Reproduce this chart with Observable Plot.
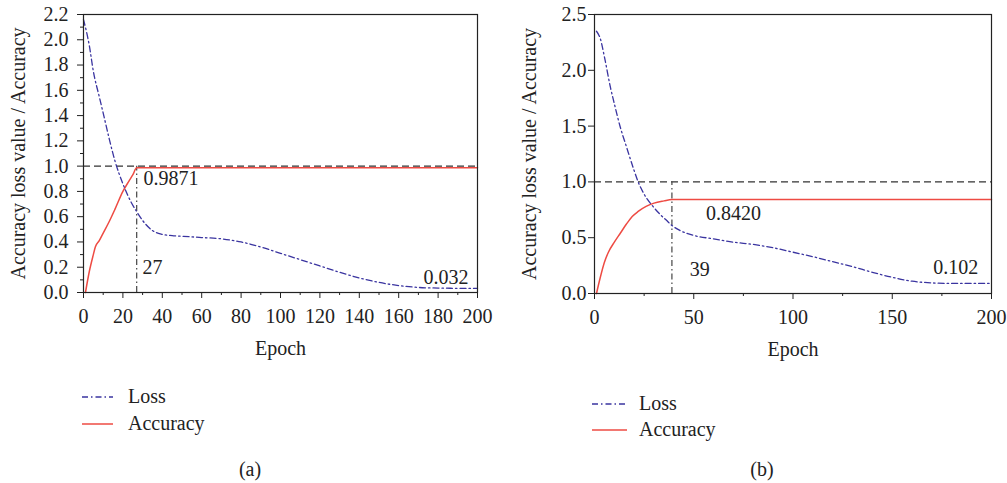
<!DOCTYPE html>
<html><head><meta charset="utf-8">
<script src="https://cdn.jsdelivr.net/npm/d3@7"></script>
<script src="https://cdn.jsdelivr.net/npm/@observablehq/plot@0.6"></script>
<style>
body{margin:0;background:#fff;font-family:"Liberation Serif",serif;color:#222}
#root{position:relative;width:1007px;height:483px;overflow:hidden;background:#fff}
.panel{position:absolute;top:0}
.txt{position:absolute;font-size:20px;line-height:20px;white-space:nowrap;color:#222}
.sw{position:absolute}
</style>
</head><body><div id="root"></div>
<script>
// ---- Data ----
const seriesNames = ["Loss", "Accuracy"];
const xLabel = "Epoch";
const yLabel = "Accuracy loss value / Accuracy";
const captions = ["(a)", "(b)"];
const refLine = [1];

// Panel (a)
const lossEpochsA = [0,3,5,8,10,13,16,20,24,27,30,35,40,45,50,60,70,80,90,100,110,120,130,140,150,160,170,180,190,200];
const lossValuesA = [2.16,1.95,1.75,1.55,1.42,1.22,1.04,0.86,0.72,0.64,0.57,0.49,0.46,0.45,0.445,0.435,0.425,0.40,0.36,0.31,0.26,0.21,0.16,0.115,0.08,0.055,0.04,0.035,0.033,0.032];
const accEpochsA = [1,3,5,6,8,10,13,16,20,23,25,27,200];
const accValuesA = [0,0.17,0.30,0.36,0.41,0.47,0.56,0.66,0.80,0.88,0.93,0.9871,0.9871];
const peakEpochA = 27;
const annTextA = ["0.9871", "27", "0.032"];
const annXA = [30.5, 30, 184];
const annYA = [0.905, 0.2, 0.12];
const annAnchorA = ["start", "start", "middle"];
const xMajorA = [0,20,40,60,80,100,120,140,160,180,200];
const xMinorA = [10,30,50,70,90,110,130,150,170,190];
const yMajorA = [0,0.2,0.4,0.6,0.8,1.0,1.2,1.4,1.6,1.8,2.0,2.2];
const yMinorA = [0.1,0.3,0.5,0.7,0.9,1.1,1.3,1.5,1.7,1.9,2.1];

// Panel (b)
const lossEpochsB = [1,3,5,8,10,13,16,20,22,25,29,33,36,39,43,50,60,70,80,90,100,110,120,130,140,150,160,170,180,190,200];
const lossValuesB = [2.35,2.28,2.12,1.85,1.70,1.49,1.32,1.10,1.0,0.89,0.79,0.71,0.66,0.61,0.565,0.52,0.49,0.46,0.44,0.41,0.37,0.33,0.285,0.24,0.19,0.145,0.11,0.095,0.09,0.09,0.09];
const accEpochsB = [1,3,5,7,10,13,16,19,22,26,30,35,39,200];
const accValuesB = [0,0.15,0.28,0.37,0.46,0.54,0.62,0.69,0.735,0.78,0.81,0.83,0.842,0.842];
const peakEpochB = 39;
const annTextB = ["0.8420", "39", "0.102"];
const annXB = [70, 53, 182];
const annYB = [0.72, 0.215, 0.235];
const annAnchorB = ["middle", "middle", "middle"];
const xMajorB = [0,50,100,150,200];
const xMinorB = [25,75,125,175];
const yMajorB = [0,0.5,1.0,1.5,2.0,2.5];
const yMinorB = [];

// ---- Styles ----
const LOSS_COLOR = "#3a34a0";
const ACC_COLOR = "#ee4b43";
const DASHDOT = "6,3,1.5,3";
const FONT = '"Liberation Serif", serif';

function makePanel(c) {
  const loss = c.lossEpochs.map((e, i) => ({epoch: e, value: c.lossValues[i]}));
  const acc = c.accEpochs.map((e, i) => ({epoch: e, value: c.accValues[i]}));
  const ann = c.annText.map((t, i) => ({text: t, x: c.annX[i], y: c.annY[i], anchor: c.annAnchor[i]}));
  const marks = [
    Plot.ruleY(refLine, {stroke: "#333", strokeWidth: 1.2, strokeDasharray: "7,4"}),
    Plot.ruleX([c.peak], {y1: 0, y2: 1, stroke: "#444", strokeWidth: 1.2, strokeDasharray: DASHDOT}),
    Plot.line(acc, {x: "epoch", y: "value", stroke: ACC_COLOR, strokeWidth: 1.5, curve: "monotone-x"}),
    Plot.line(loss, {x: "epoch", y: "value", stroke: LOSS_COLOR, strokeWidth: 1.3, strokeDasharray: DASHDOT, curve: "monotone-x"}),
    Plot.axisX({ticks: c.xMajor, tickSize: 6, tickPadding: 10, tickFormat: d => String(d), label: null, fontSize: 20, fontFamily: FONT, stroke: "#222"}),
    Plot.axisX({ticks: c.xMinor, tickSize: 3, tickFormat: () => "", label: null, stroke: "#222"}),
    Plot.axisY({ticks: c.yMajor, tickSize: 6, tickPadding: c.yPad, tickFormat: d3.format(".1f"), label: null, fontSize: 20, fontFamily: FONT, stroke: "#222"}),
    Plot.frame({stroke: "#222", strokeWidth: 1.2}),
    ...ann.map(a => Plot.text([a], {x: "x", y: "y", text: "text", textAnchor: a.anchor, fontSize: 20, fontFamily: FONT, fill: "#222"})),
    Plot.text([xLabel], {text: d => d, frameAnchor: "bottom", dy: 62, fontSize: 20, fontFamily: FONT, fill: "#222"}),
    Plot.text([yLabel], {text: d => d, frameAnchor: "left", textAnchor: "middle", rotate: -90, dx: -64.5, fontSize: 20, fontFamily: FONT, fill: "#222"})
  ];
  if (c.yMinor.length) marks.push(Plot.axisY({ticks: c.yMinor, tickSize: 3, tickFormat: () => "", label: null, stroke: "#222"}));
  const svg = Plot.plot({
    width: c.width, height: 370,
    marginLeft: c.ml, marginRight: c.mr, marginTop: 14, marginBottom: c.mb,
    style: {fontFamily: FONT, fontSize: "20px", color: "#222", background: "transparent", overflow: "visible"},
    x: {domain: [0, 200]},
    y: {domain: c.yDomain},
    marks
  });
  svg.classList.add("panel");
  svg.style.left = c.left + "px";
  return svg;
}

const root = document.getElementById("root");
root.appendChild(makePanel({
  left: 0, width: 500, ml: 83, mr: 23, mb: 78, yPad: 9, yDomain: [0, 2.2],
  lossEpochs: lossEpochsA, lossValues: lossValuesA, accEpochs: accEpochsA, accValues: accValuesA,
  peak: peakEpochA, annText: annTextA, annX: annXA, annY: annYA, annAnchor: annAnchorA,
  xMajor: xMajorA, xMinor: xMinorA, yMajor: yMajorA, yMinor: yMinorA
}));
root.appendChild(makePanel({
  left: 500, width: 507, ml: 94, mr: 16, mb: 77, yPad: 2, yDomain: [0, 2.5],
  lossEpochs: lossEpochsB, lossValues: lossValuesB, accEpochs: accEpochsB, accValues: accValuesB,
  peak: peakEpochB, annText: annTextB, annX: annXB, annY: annYB, annAnchor: annAnchorB,
  xMajor: xMajorB, xMinor: xMinorB, yMajor: yMajorB, yMinor: yMinorB
}));

// ---- Legends & captions ----
function legend(lineX, lineW, textX, rowsY) {
  seriesNames.forEach((name, i) => {
    const y = rowsY[i];
    const sw = document.createElementNS("http://www.w3.org/2000/svg", "svg");
    sw.setAttribute("width", lineW); sw.setAttribute("height", 10);
    sw.setAttribute("class", "sw");
    sw.style.left = lineX + "px"; sw.style.top = (y - 5) + "px";
    const ln = document.createElementNS("http://www.w3.org/2000/svg", "line");
    ln.setAttribute("x1", 0); ln.setAttribute("x2", lineW); ln.setAttribute("y1", 5); ln.setAttribute("y2", 5);
    ln.setAttribute("stroke", i === 0 ? LOSS_COLOR : ACC_COLOR);
    ln.setAttribute("stroke-width", i === 0 ? 1.3 : 1.5);
    if (i === 0) ln.setAttribute("stroke-dasharray", DASHDOT);
    sw.appendChild(ln);
    root.appendChild(sw);
    const t = document.createElement("div");
    t.className = "txt"; t.textContent = name;
    t.style.left = textX + "px"; t.style.top = (y - 11) + "px";
    root.appendChild(t);
  });
}
legend(82, 31, 128, [397, 424]);
legend(592, 35, 639, [404, 430]);

function caption(text, cx, cy) {
  const t = document.createElement("div");
  t.className = "txt"; t.textContent = text;
  t.style.left = (cx - 20) + "px"; t.style.width = "40px"; t.style.textAlign = "center";
  t.style.top = (cy - 10) + "px";
  root.appendChild(t);
}
caption(captions[0], 250, 469);
caption(captions[1], 762, 469);
</script>
</body></html>
